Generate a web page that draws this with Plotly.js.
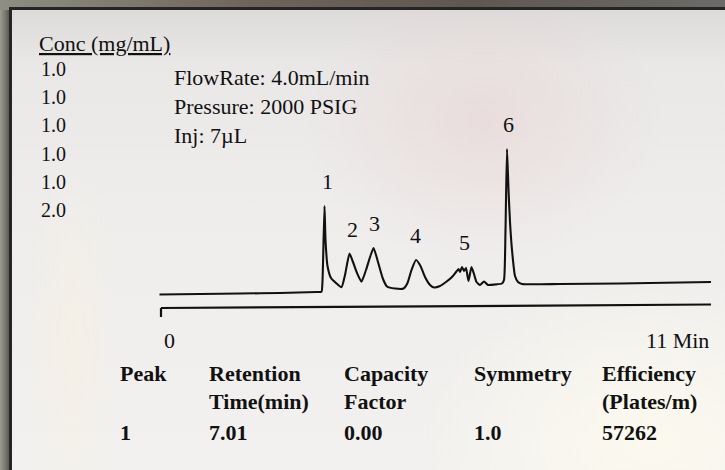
<!DOCTYPE html>
<html><head><meta charset="utf-8">
<script src="https://cdn.plot.ly/plotly-3.0.1.min.js"></script>
<style>
html,body{margin:0;padding:0;}
#wrap{position:relative;width:725px;height:470px;overflow:hidden;background:linear-gradient(90deg,#9c9c92 0px,#7a7a70 5px,#5a5a55 9px);}
#top{position:absolute;left:0;top:0;width:725px;height:10px;background:linear-gradient(90deg,#8e8e82 0%,#6f645c 35%,#5f5752 65%,#6c6a67 100%);}
#panel{position:absolute;left:9px;top:7px;right:0;bottom:0;border-left:3px solid #252525;border-top:3px solid #252525;
background:
radial-gradient(ellipse 240px 190px at 470px 110px, rgba(232,210,210,0.55), rgba(232,210,210,0) 75%),
radial-gradient(ellipse 320px 230px at 640px 430px, rgba(252,250,238,0.95), rgba(252,250,238,0) 72%),
radial-gradient(ellipse 60px 260px at 60px 330px, rgba(248,240,225,0.6), rgba(248,240,225,0) 75%),
linear-gradient(180deg,#dddbda 0px,#e9e8e7 55px,#eeedec 200px,#f2f1ef 460px);}
#chart{position:absolute;left:0;top:0;width:725px;height:470px;}
</style></head>
<body>
<div id="wrap"><div id="top"></div><div id="panel"></div><div id="chart"></div></div>
<script>
// ---- data ----
const timeMin = [-0.03,0.78,1.58,2.38,3.12,3.21,3.23,3.27,3.29,3.33,3.40,3.50,3.61,3.68,3.77,3.84,3.92,4.01,4.10,4.25,4.34,4.44,4.52,4.68,4.85,4.93,5.01,5.10,5.19,5.28,5.38,5.46,5.58,5.70,5.82,5.90,5.95,5.98,6.02,6.06,6.10,6.15,6.21,6.26,6.31,6.38,6.46,6.54,6.68,6.82,6.86,6.89,6.92,6.95,6.98,7.02,7.08,7.14,7.22,7.98,9.18,10.38,11.0];
const signal  = [13.5,14,14.5,15,16,16.3,27,102,68,42,30,25,20.7,33,54.5,46,35,26.3,38,60,46,29,21.5,19.5,19.5,25,38,48,42,31,23,20.5,22,26,31,36,39,36,41,37,40,27,41,34,26,23,26.5,23,23.5,24.5,28,78,159,118,86,58,32,26,24,24,24.5,25.5,26];
const peakNames = ['1','2','3','4','5','6'];
const peakTimes = [3.33,3.82,4.26,5.08,6.06,6.94];
const peakHeights = [102,54.5,60,48,41,159];
const concLabel = 'Conc (mg/mL)';
const concValues = ['1.0','1.0','1.0','1.0','1.0','2.0'];
const conditions = ['FlowRate: 4.0mL/min','Pressure: 2000 PSIG','Inj: 7\u00b5L'];
const axisStart = '0', axisEnd = '11 Min';
const tableHeader1 = ['Peak','Retention','Capacity','Symmetry','Efficiency'];
const tableHeader2 = ['','Time(min)','Factor','','(Plates/m)'];
const tableRow = ['1','7.01','0.00','1.0','57262'];

// ---- layout helpers ----
const W=725,H=470,L=156,R=14,T=108,B=150;
const pw=W-L-R, ph=H-T-B;
const px=x=>(x-L)/pw, py=y=>(H-B-y)/ph;
const serif='Liberation Serif, Times New Roman, serif';
const ann=[];
function txt(t,x,y,size,opts){ann.push(Object.assign({text:t,xref:'paper',yref:'paper',x:px(x),y:py(y),xanchor:'left',yanchor:'middle',showarrow:false,font:{family:serif,size:size,color:'#111'}},opts||{}));}

txt('<u>'+concLabel+'</u>',37,43,22);
concValues.forEach((v,i)=>txt(v,39,69+i*28.2,20));
conditions.forEach((v,i)=>txt(v,172,78+i*28.5,22));
txt(axisStart,162,340,22);
txt(axisEnd,711,340,22,{xanchor:'right'});
const colX=[118,207,342,472,600];
colX.forEach((x,i)=>{
  txt('<b>'+tableHeader1[i]+'</b>',x,373,22);
  if(tableHeader2[i]) txt('<b>'+tableHeader2[i]+'</b>',x,401,22);
  txt('<b>'+tableRow[i]+'</b>',x,432,22);
});
peakNames.forEach((n,i)=>ann.push({text:n,x:peakTimes[i],y:peakHeights[i],xref:'x',yref:'y',xanchor:'center',yanchor:'bottom',yshift:10,showarrow:false,font:{family:serif,size:22,color:'#111'}}));

const trace={x:timeMin,y:signal,type:'scatter',mode:'lines',line:{color:'#111',width:2.1,shape:'spline',smoothing:0.5},hoverinfo:'skip',cliponaxis:false};
const layout={width:W,height:H,margin:{l:L,r:R,t:T,b:B},paper_bgcolor:'rgba(0,0,0,0)',plot_bgcolor:'rgba(0,0,0,0)',
 showlegend:false,
 xaxis:{range:[-0.1,11],visible:false,fixedrange:true},
 yaxis:{range:[-12,200],visible:false,fixedrange:true},
 shapes:[
  {type:'line',xref:'x',yref:'y',x0:0,y0:0,x1:11,y1:3.5,line:{color:'#111',width:2.2}},
  {type:'line',xref:'x',yref:'y',x0:0,y0:0,x1:0,y1:-9,line:{color:'#111',width:2.2}}
 ],
 annotations:ann};
Plotly.newPlot('chart',[trace],layout,{staticPlot:true,displayModeBar:false});
</script>
</body></html>
